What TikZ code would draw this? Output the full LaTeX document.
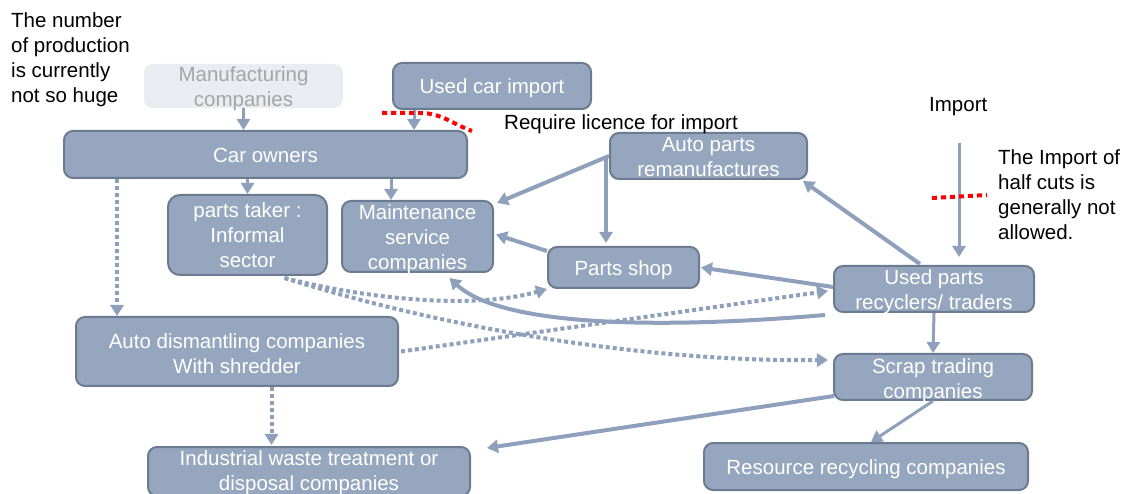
\documentclass[tikz,border=0pt]{standalone}
\usepackage{fontspec}
\setmainfont{Liberation Sans}
\usetikzlibrary{arrows.meta,calc}
\definecolor{boxfill}{RGB}{149,166,190}
\definecolor{boxline}{RGB}{109,123,144}
\definecolor{arrcol}{RGB}{142,160,187}
\definecolor{manufill}{RGB}{233,236,241}
\definecolor{manutext}{RGB}{165,165,165}
\tikzset{
  txt/.style={font=\fontsize{20.5}{25}\selectfont},
  box/.style={draw=boxline, line width=2pt, fill=boxfill, rounded corners=9pt, inner sep=0pt},
  manubox/.style={fill=manufill, rounded corners=9pt, inner sep=0pt},
  boxtext/.style={txt, text=white, align=center, inner sep=0pt},
  manutxt/.style={txt, text=manutext, align=center, inner sep=0pt},
  tipA/.style={-{Triangle[length=11pt,width=13pt]}},
  arr/.style={draw=arrcol, line width=4pt, tipA},
  thinarr/.style={draw=arrcol, line width=3pt, tipA},
  dotarr/.style={draw=arrcol, line width=4pt, dash pattern=on 4pt off 3pt, tipA},
  note/.style={txt, text=black, inner sep=0pt, align=left},
  redline/.style={draw=red, line width=4pt, dash pattern=on 5pt off 4pt}
}
\begin{document}
\begin{tikzpicture}[x=1pt,y=-1pt]
\useasboundingbox (0,0) rectangle (1128,494);
\clip (0,0) rectangle (1128,494);
% boxes
\node[manubox, minimum width=199pt, minimum height=44pt] (manu) at (243.5,86) {};
\node[box, minimum width=198pt, minimum height=46pt] (uci) at (492,86) {};
\node[box, minimum width=403pt, minimum height=47pt] (car) at (265.5,154.5) {};
\node[box, rounded corners=12pt, minimum width=159pt, minimum height=80pt] (taker) at (247.5,235) {};
\node[box, minimum width=151pt, minimum height=71pt] (maint) at (417.5,236.5) {};
\node[box, minimum width=197pt, minimum height=46pt] (apr) at (708.5,156) {};
\node[box, minimum width=151pt, minimum height=41pt] (shop) at (623.5,267.5) {};
\node[box, minimum width=200pt, minimum height=46pt] (used) at (934,289) {};
\node[box, minimum width=322pt, minimum height=69pt] (dism) at (237,351.5) {};
\node[box, minimum width=198pt, minimum height=46pt] (scrap) at (933,377) {};
\node[box, minimum width=322pt, minimum height=49pt] (ind) at (309,471.5) {};
\node[box, minimum width=324pt, minimum height=47pt] (res) at (866,466.5) {};
% box texts
\node[manutxt] (manuT) at ($(manu)+(0,3)$) {Manufacturing\\companies};
\node[boxtext] (uciT) at ($(uci)+(0,2.5)$) {Used car import};
\node[boxtext] (carT) at ($(car)+(0,0.5)$) {Car owners};
\node[boxtext] (takerT) at ($(taker)+(0,0.5)$) {parts taker :\\Informal\\sector};
\node[boxtext] (maintT) at ($(maint)+(0,3)$) {Maintenance\\service\\companies};
\node[boxtext] (aprT) at ($(apr)+(0,1.5)$) {Auto parts\\remanufactures};
\node[boxtext] (shopT) at ($(shop)+(0,2.5)$) {Parts shop};
\node[boxtext] (usedT) at ($(used)+(0,2.5)$) {Used parts\\recyclers/ traders};
\node[boxtext] (dismT) at ($(dism)+(0,2)$) {Auto dismantling companies\\With shredder};
\node[boxtext] (scrapT) at ($(scrap)+(0,4)$) {Scrap trading\\companies};
\node[boxtext] (indT) at ($(ind)+(0,1.5)$) {Industrial waste treatment or\\disposal companies};
\node[boxtext] (resT) at ($(res)+(0,3)$) {Resource recycling companies};
% free texts
\node[note, anchor=north west] (notea) at (11,12) {The number\\of production\\is currently\\not so huge};
\node[note, anchor=base west] (lic) at (504,130) {Require licence for import};
\node[note, anchor=base west] (imp) at (929,112) {Import};
\node[note, anchor=north west] (half) at (998,149) {The Import of\\half cuts is\\generally not\\allowed.};
% helper coordinates
\coordinate (c1) at ($(uci.south)+(-78,0)$);
\coordinate (c2) at ($(maint.north)+(-26.5,0)$);
\coordinate (d1) at ($(dism.north west)+(42,0)$);
\coordinate (d2) at ($(dism.south west)+(196.5,0)$);
\coordinate (a1) at ($(apr.west)+(-3,0)$);
\coordinate (impstart) at (959,143);
\coordinate (t1) at ($(taker.south)+(37,2)$);
% solid connectors
\draw[thinarr] (manu.south) -- (manu.south |- car.north);
\draw[thinarr] (c1) -- (c1 |- car.north);
\draw[thinarr] (car.south -| taker.north) -- (taker.north);
\draw[thinarr] (c2 |- car.south) -- (c2);
\draw[arr] (apr.west) -- ($(maint.north east)+(3,3)$);
\draw[arr] (a1) -- ($(a1 |- shop.north)+(0,-3)$);
\draw[arr] ($(shop.north west)+(0,5)$) -- ($(maint.east)+(2,-2)$);
\draw[arr] ($(used.west)+(0,-2)$) -- ($(shop.east)+(1,0)$);
\draw[arr] ($(used.north)+(-14,-1)$) -- ($(apr.south east)+(-5,1)$);
\draw[thinarr] (impstart) -- ($(used.north)+(25,-8)$);
\draw[thinarr] (used.south) -- (scrap.north);
\draw[arr] ($(scrap.south west)+(1,-5)$) -- ($(ind.north east)+(16,2)$);
\draw[thinarr] (scrap.south) -- ($(res.north)+(5,0)$);
\draw[arr] ($(used.south west)+(-8,2)$) .. controls (650,330) and (500,325) .. ($(maint.south)+(32,5)$);
% dotted connectors
\draw[dotarr] (d1 |- car.south) -- (d1);
\draw[dotarr] (d2) -- ($(d2 |- ind.north)+(0,-1)$);
\draw[dotarr] (t1) .. controls (380,302) and (480,308) .. (shop.south west);
\draw[dotarr] (t1) .. controls (450,330) and (650,362) .. ($(scrap.west)+(-5,-17)$);
\draw[dotarr] ($(dism.east)+(2,0)$) -- ($(used.west)+(-5,2)$);
% red dotted marks
\draw[redline] (382,113) -- (420,113) to[out=0,in=160] (472,131);
\draw[redline] (932,198) -- (987,195);
\end{tikzpicture}
\end{document}
